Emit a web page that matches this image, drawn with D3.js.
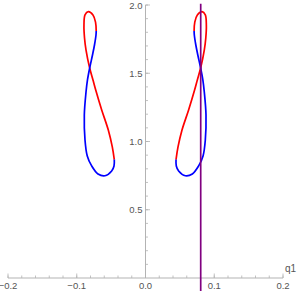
<!DOCTYPE html>
<html>
<head>
<meta charset="utf-8">
<script src="https://cdn.jsdelivr.net/npm/d3@7"></script>
<style>
  body { margin: 0; background: #fff; }
  svg { display: block; }
</style>
</head>
<body>
<div class="chart"></div>
<script>
// Left figure-eight, red half then blue half (q1, q2 points)
const leftRed = [
    [-0.0717, 1.810], [-0.0727, 1.875], [-0.0764, 1.927], [-0.0832, 1.951], [-0.0880, 1.927],
    [-0.0895, 1.853], [-0.0887, 1.758], [-0.0865, 1.670], [-0.0812, 1.538], [-0.0764, 1.451],
    [-0.0724, 1.377], [-0.0637, 1.231], [-0.0541, 1.084], [-0.0483, 0.960], [-0.0454, 0.868]
];
const leftBlue = [
    [-0.0454, 0.868], [-0.0458, 0.821], [-0.0492, 0.784], [-0.0589, 0.749], [-0.0691, 0.762],
    [-0.0783, 0.821], [-0.0847, 0.894], [-0.0880, 1.011], [-0.0890, 1.194], [-0.0865, 1.363],
    [-0.0844, 1.451], [-0.0812, 1.538], [-0.0771, 1.634], [-0.0742, 1.707], [-0.0720, 1.780],
    [-0.0717, 1.810]
];
// Right figure-eight
const rightRed = [
    [0.0707, 1.810], [0.0717, 1.875], [0.0754, 1.927], [0.0822, 1.951], [0.0870, 1.927],
    [0.0885, 1.853], [0.0877, 1.758], [0.0855, 1.670], [0.0802, 1.538], [0.0754, 1.451],
    [0.0714, 1.377], [0.0627, 1.231], [0.0531, 1.084], [0.0473, 0.960], [0.0444, 0.868]
];
const rightBlue = [
    [0.0444, 0.868], [0.0448, 0.821], [0.0482, 0.784], [0.0579, 0.749], [0.0681, 0.762],
    [0.0773, 0.821], [0.0837, 0.894], [0.0870, 1.011], [0.0880, 1.194], [0.0855, 1.363],
    [0.0834, 1.451], [0.0802, 1.538], [0.0761, 1.634], [0.0732, 1.707], [0.0710, 1.780],
    [0.0707, 1.810]
];
// Vertical purple line
const vLine = [[0.0803, -0.1], [0.0803, 2.01]];

const xTicks = [-0.2, -0.1, 0.0, 0.1, 0.2];
const yTicks = [0.5, 1.0, 1.5, 2.0];
const xMinor = d3.range(-0.2, 0.2001, 0.02);
const yMinor = d3.range(0.1, 2.0001, 0.1);

const width = 300, height = 291;
const svg = d3.select(".chart").append("svg")
    .attr("width", width)
    .attr("height", height);

const x = d3.scaleLinear().domain([-0.2, 0.2]).range([8, 283]);
const y = d3.scaleLinear().domain([0, 2]).range([278, 5]);

const axisColor = "#b3b3b3";
const labelColor = "#555";
const font = "'Liberation Sans', Arial, sans-serif";

// x axis
svg.append("line")
    .attr("x1", x(-0.2)).attr("x2", x(0.2))
    .attr("y1", y(0)).attr("y2", y(0))
    .attr("stroke", axisColor).attr("stroke-width", 1);
svg.selectAll(".xminor").data(xMinor).join("line")
    .attr("x1", d => x(d)).attr("x2", d => x(d))
    .attr("y1", y(0)).attr("y2", y(0) - 2.5)
    .attr("stroke", axisColor).attr("stroke-width", 0.8);
svg.selectAll(".xmajor").data(xTicks).join("line")
    .attr("x1", d => x(d)).attr("x2", d => x(d))
    .attr("y1", y(0)).attr("y2", y(0) - 4.5)
    .attr("stroke", axisColor).attr("stroke-width", 0.8);
svg.selectAll(".xlabel").data(xTicks).join("text")
    .attr("x", d => x(d))
    .attr("y", y(0) + 11)
    .attr("text-anchor", "middle")
    .style("font-family", font)
    .style("font-size", "9.5px")
    .attr("fill", labelColor)
    .text(d => d3.format(".1f")(d).replace("-", "\u2212"));
svg.append("text")
    .attr("x", 285)
    .attr("y", 272)
    .style("font-family", font)
    .style("font-size", "10px")
    .attr("fill", labelColor)
    .text("q1");

// y axis
svg.append("line")
    .attr("x1", x(0)).attr("x2", x(0))
    .attr("y1", y(0)).attr("y2", y(2))
    .attr("stroke", axisColor).attr("stroke-width", 1);
svg.selectAll(".yminor").data(yMinor).join("line")
    .attr("x1", x(0)).attr("x2", x(0) + 2.5)
    .attr("y1", d => y(d)).attr("y2", d => y(d))
    .attr("stroke", axisColor).attr("stroke-width", 0.8);
svg.selectAll(".ymajor").data(yTicks).join("line")
    .attr("x1", x(0)).attr("x2", x(0) + 4.5)
    .attr("y1", d => y(d)).attr("y2", d => y(d))
    .attr("stroke", axisColor).attr("stroke-width", 0.8);
svg.selectAll(".ylabel").data(yTicks).join("text")
    .attr("x", x(0) - 3)
    .attr("y", d => y(d) + 3.5)
    .attr("text-anchor", "end")
    .style("font-family", font)
    .style("font-size", "9.5px")
    .attr("fill", labelColor)
    .text(d => d3.format(".1f")(d));

// curves
const line = d3.line()
    .x(d => x(d[0]))
    .y(d => y(d[1]))
    .curve(d3.curveCatmullRom.alpha(0.5));

const segments = [
    { pts: leftRed, color: "#ff0000" },
    { pts: leftBlue, color: "#0000ff" },
    { pts: rightRed, color: "#ff0000" },
    { pts: rightBlue, color: "#0000ff" }
];
svg.selectAll(".seg").data(segments).join("path")
    .attr("d", d => line(d.pts))
    .attr("fill", "none")
    .attr("stroke", d => d.color)
    .attr("stroke-width", 1.7);

svg.append("path")
    .attr("d", d3.line().x(d => x(d[0])).y(d => y(d[1]))(vLine))
    .attr("fill", "none")
    .attr("stroke", "#800080")
    .attr("stroke-width", 1.7);
</script>
</body>
</html>
